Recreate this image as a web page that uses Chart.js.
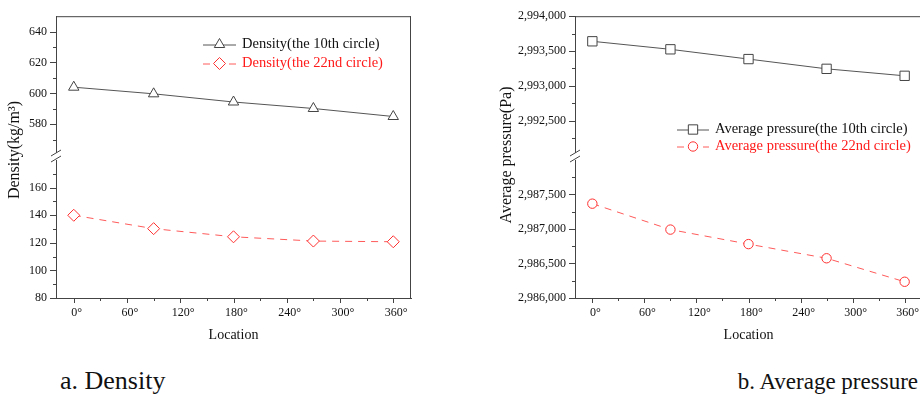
<!DOCTYPE html>
<html>
<head>
<meta charset="utf-8">
<script src="https://cdn.jsdelivr.net/npm/chart.js@4.4.0/dist/chart.umd.min.js"></script>
<style>
  html, body { margin: 0; padding: 0; background: #fff; overflow: hidden; }
  #wrap { position: relative; width: 920px; height: 398px; overflow: hidden; }
  .panel { position: absolute; top: 0; height: 350px; }
  #panelA { left: 0; width: 460px; }
  #panelB { left: 460px; width: 500px; }
  .caption {
    position: absolute; font-family: 'Liberation Serif', serif;
    color: #111; white-space: nowrap;
  }
</style>
</head>
<body>
<div id="wrap">
  <div class="panel" id="panelA"><canvas id="densityChart"></canvas></div>
  <div class="panel" id="panelB"><canvas id="pressureChart"></canvas></div>
  <div class="caption" style="left:60px; top:366px; font-size:26px">a. Density</div>
  <div class="caption" style="right:2px; top:369px; font-size:23px">b. Average pressure</div>
</div>
<script>
/* ── Data ── */
const LOCATIONS = [0, 90, 180, 270, 360];
const X_TICKS = [0, 30, 60, 90, 120, 150, 180, 210, 240, 270, 300, 330, 360];

const DENSITY_10 = [604, 599.7, 594.4, 590.2, 585];
const DENSITY_22 = [140, 130.3, 124.4, 121.3, 120.8];
const DENSITY_UP_TICKS = [570, 580, 590, 600, 610, 620, 630, 640];
const DENSITY_LO_TICKS = [80, 90, 100, 110, 120, 130, 140, 150, 160, 170];

const PRESSURE_10 = [2993640, 2993525, 2993385, 2993245, 2993145];
const PRESSURE_22 = [2987365, 2986990, 2986780, 2986575, 2986235];
const PRESSURE_UP_TICKS = [2992250, 2992500, 2992750, 2993000, 2993250, 2993500, 2993750, 2994000];
const PRESSURE_LO_TICKS = [2986000, 2986250, 2986500, 2986750, 2987000, 2987250, 2987500, 2987750];

/* ── Defaults ── */
Chart.defaults.font.family = "'Liberation Serif', 'Times New Roman', serif";
Chart.defaults.font.size = 12;
Chart.defaults.color = "#111";

const AXIS = "#444";
const BLACK_LINE = "#555";
const RED = "#ff3030";
const RED_LINE = "#ff5a5a";

const pts = (ys) => LOCATIONS.map((x, i) => ({ x, y: ys[i] }));

/* ── Frame, tick marks, axis break, y title and legend ── */
const framePlugin = {
  id: "frame",
  afterDraw(chart, args, opts) {
    const { ctx, chartArea: a, scales } = chart;
    ctx.save();
    ctx.strokeStyle = AXIS;
    ctx.lineWidth = 1;

    // top + right frame
    ctx.beginPath();
    ctx.moveTo(a.left, a.top + 0.5);
    ctx.lineTo(a.right, a.top + 0.5);
    ctx.moveTo(a.right - 0.5, a.top);
    ctx.lineTo(a.right - 0.5, a.bottom);
    ctx.stroke();

    // y tick marks
    ["yUp", "yLo"].forEach((id) => {
      const s = scales[id];
      s.ticks.forEach((t) => {
        const y = Math.round(s.getPixelForValue(t.value)) + 0.5;
        const len = opts.isMajorY(t.value) ? 6 : 3;
        ctx.beginPath();
        ctx.moveTo(a.left - len, y);
        ctx.lineTo(a.left, y);
        ctx.stroke();
      });
    });

    // x tick marks
    const sx = scales.x;
    sx.ticks.forEach((t) => {
      const x = Math.round(sx.getPixelForValue(t.value)) + 0.5;
      const len = t.value % 60 === 0 ? 5 : 3;
      ctx.beginPath();
      ctx.moveTo(x, a.bottom);
      ctx.lineTo(x, a.bottom + len);
      ctx.stroke();
    });

    // axis break
    const by = Math.round((scales.yUp.bottom + scales.yLo.top) / 2);
    ctx.fillStyle = "#fff";
    ctx.fillRect(a.left - 3, by - 4, 6, 7);
    ctx.beginPath();
    ctx.moveTo(a.left - 5, by - 1);
    ctx.lineTo(a.left + 5, by - 7);
    ctx.moveTo(a.left - 5, by + 5);
    ctx.lineTo(a.left + 5, by - 1);
    ctx.stroke();

    // y title
    ctx.fillStyle = "#111";
    ctx.font = "16px 'Liberation Serif', serif";
    ctx.textAlign = "center";
    ctx.textBaseline = "middle";
    ctx.translate(opts.titleX, opts.titleY);
    ctx.rotate(-Math.PI / 2);
    ctx.fillText(opts.title, 0, 0);
    ctx.restore();

    // legend
    ctx.save();
    ctx.font = "14.5px 'Liberation Serif', serif";
    ctx.textBaseline = "middle";
    ctx.textAlign = "left";
    const L = opts.legend;
    chart.data.datasets.forEach((ds, i) => {
      const y = L.y + i * L.gap;
      ctx.strokeStyle = ds.borderColor;
      ctx.lineWidth = 1;
      ctx.setLineDash(ds.borderDash || []);
      ctx.beginPath();
      ctx.moveTo(L.x, y + 0.5);
      ctx.lineTo(L.x + L.w, y + 0.5);
      ctx.stroke();
      ctx.setLineDash([]);
      ctx.fillStyle = "#fff";
      ctx.strokeStyle = ds.pointBorderColor;
      Chart.helpers.drawPoint(ctx, {
        pointStyle: ds.pointStyle,
        radius: ds.pointRadius,
        borderWidth: 1,
      }, L.x + L.w / 2, y);
      ctx.fillStyle = ds.legendText;
      ctx.fillText(ds.label, L.x + L.w + 6, y);
    });
    ctx.restore();
  },
};

function lineSet(label, data, axis, color, pointColor, style, r, dashed, textColor) {
  return {
    label,
    data,
    yAxisID: axis,
    borderColor: color,
    borderWidth: 1,
    borderDash: dashed ? [7, 6] : [],
    pointStyle: style,
    pointRadius: r,
    pointHoverRadius: r,
    pointBorderColor: pointColor,
    pointBackgroundColor: "#fff",
    pointBorderWidth: 1,
    tension: 0,
    legendText: textColor,
  };
}

function yAxis(min, max, ticks, isMajor, fmt, width) {
  return {
    type: "linear",
    position: "left",
    stack: "y",
    stackWeight: 1,
    min,
    max,
    afterBuildTicks: (s) => { s.ticks = ticks.map((v) => ({ value: v })); },
    afterFit: (s) => { s.width = width; },
    grid: { display: false, drawTicks: false, tickLength: 0 },
    border: { display: true, color: AXIS, width: 1 },
    ticks: {
      autoSkip: false,
      padding: 9,
      color: "#111",
      font: { size: 12 },
      callback: (v) => (isMajor(v) ? fmt(v) : ""),
    },
  };
}

function xAxis() {
  return {
    type: "linear",
    position: "bottom",
    min: -20,
    max: 380,
    afterBuildTicks: (s) => { s.ticks = X_TICKS.map((v) => ({ value: v })); },
    afterFit: (s) => { s.height = 52; },
    grid: { display: false, drawTicks: false, tickLength: 0 },
    border: { display: true, color: AXIS, width: 1 },
    ticks: {
      autoSkip: false,
      maxRotation: 0,
      padding: 8,
      labelOffset: 3,
      color: "#111",
      font: { size: 12 },
      callback: (v) => (v % 60 === 0 ? v + "°" : ""),
    },
    title: {
      display: true,
      text: "Location",
      color: "#111",
      font: { size: 14 },
      padding: { top: 0, bottom: 6 },
    },
  };
}

/* ── a. Density ── */
const densMajor = (v) => v % 20 === 0;
new Chart(document.getElementById("densityChart"), {
  type: "line",
  data: {
    datasets: [
      lineSet("Density(the 10th circle)", pts(DENSITY_10), "yUp", BLACK_LINE, "#444", "triangle", 6, false, "#111"),
      lineSet("Density(the 22nd circle)", pts(DENSITY_22), "yLo", RED_LINE, RED, "rectRot", 6, true, "#ff1a1a"),
    ],
  },
  options: {
    responsive: true,
    maintainAspectRatio: false,
    animation: false,
    events: [],
    layout: { padding: { top: 15, right: 49, left: 0, bottom: 0 } },
    scales: {
      x: xAxis(),
      yLo: yAxis(80, 182.2, DENSITY_LO_TICKS, densMajor, (v) => String(v), 56),
      yUp: yAxis(558.7, 650, DENSITY_UP_TICKS, densMajor, (v) => String(v), 56),
    },
    plugins: {
      legend: { display: false },
      tooltip: { enabled: false },
      frame: {
        isMajorY: densMajor,
        title: "Density(kg/m³)",
        titleX: 15,
        titleY: 150,
        legend: { x: 203, y: 44.5, gap: 19, w: 33 },
      },
    },
  },
  plugins: [framePlugin],
});

/* ── b. Average pressure ── */
const presMajor = (v) => v % 500 === 0;
const fmtPa = (v) => Number(v).toLocaleString("en-US");
new Chart(document.getElementById("pressureChart"), {
  type: "line",
  data: {
    datasets: [
      lineSet("Average pressure(the 10th circle)", pts(PRESSURE_10), "yUp", BLACK_LINE, "#444", "rect", 6.6, false, "#111"),
      lineSet("Average pressure(the 22nd circle)", pts(PRESSURE_22), "yLo", RED_LINE, RED, "circle", 4.7, true, "#ff1a1a"),
    ],
  },
  options: {
    responsive: true,
    maintainAspectRatio: false,
    animation: false,
    events: [],
    layout: { padding: { top: 15, right: 38, left: 0, bottom: 0 } },
    scales: {
      x: xAxis(),
      yLo: yAxis(2986000, 2988039, PRESSURE_LO_TICKS, presMajor, fmtPa, 115),
      yUp: yAxis(2991979, 2994000, PRESSURE_UP_TICKS, presMajor, fmtPa, 115),
    },
    plugins: {
      legend: { display: false },
      tooltip: { enabled: false },
      frame: {
        isMajorY: presMajor,
        title: "Average pressure(Pa)",
        titleX: 47,
        titleY: 155,
        legend: { x: 217, y: 129.5, gap: 17, w: 32 },
      },
    },
  },
  plugins: [framePlugin],
});
</script>
</body>
</html>
